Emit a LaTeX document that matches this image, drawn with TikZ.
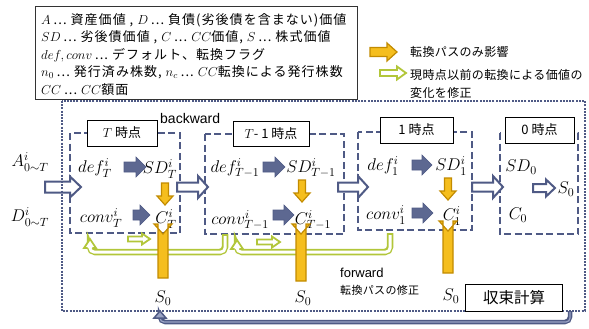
\RequirePackage{fix-cm}
\documentclass[tikz,border=0pt]{standalone}
\usepackage{fontspec}
\setmainfont{Noto Sans CJK JP}
\newfontfamily\lsans{Liberation Sans}
\newfontfamily\jpwide{Noto Sans CJK JP}[LetterSpace=8]
\newfontfamily\jpmid{Noto Sans CJK JP}[LetterSpace=3]
\usetikzlibrary{calc}
\definecolor{slate}{HTML}{4F5A85}
\definecolor{slatefill}{HTML}{5D6891}
\definecolor{slatelight}{HTML}{9AA3C4}
\definecolor{gold}{HTML}{F5BE1E}
\definecolor{golddark}{HTML}{C28B00}
\definecolor{ygreen}{HTML}{B2C63A}
\newcommand\dd{\hspace{3pt}...\hspace{4pt}}
\tikzset{
  pics/harr/.style args={#1/#2/#3/#4}{code={
    \path[pic actions] (0,-#2) -- ({#1-(#4)},-#2) -- ({#1-(#4)},-#3) -- (#1,0) -- ({#1-(#4)},#3) -- ({#1-(#4)},#2) -- (0,#2) -- cycle;}},
  pics/varr/.style args={#1/#2/#3/#4}{code={
    \path[pic actions] (-#2,0) -- (-#2,{#1-(#4)}) -- (-#3,{#1-(#4)}) -- (0,#1) -- (#3,{#1-(#4)}) -- (#2,{#1-(#4)}) -- (#2,0) -- cycle;}},
  hollow/.style={draw=slate, line width=2, fill=white, line join=miter},
  blk/.style={fill=slatefill, draw=slate, line width=0.6},
  gld/.style={fill=gold, draw=golddark, line width=1.2},
  grn/.style={fill=white, draw=ygreen, line width=1.8},
  mlab/.style={font=\fontsize{17}{19}\selectfont, inner sep=0pt},
  lgd/.style={anchor=west, inner sep=0pt, font=\jpwide\fontsize{13}{15}\selectfont},
  ttl/.style={draw=black, fill=white, line width=0.8, inner sep=0pt, font=\fontsize{13}{15}\selectfont},
  dbox/.style={draw=slate, line width=2.8, dash pattern=on 7pt off 3.5pt},
}
\begin{document}
\begin{tikzpicture}[x=1pt,y=-1pt]
\useasboundingbox (0,0) rectangle (589,329);
% legend box
\node[draw=black!80, line width=0.8, minimum width=322, minimum height=93, inner sep=0pt] (legend) at (196,52.5) {};
\node[lgd] (l1) at (41,20) {$A$\dd 資産価値 , $D$\dd 負債(劣後債を含まない)価値};
\node[lgd] (l2) at (41,37.5) {$SD$\dd 劣後債価値 , $C$\dd $CC$価値, $S$\dd 株式価値};
\node[lgd] (l3) at (41,55) {$def, conv$\dd デフォルト、転換フラグ};
\node[lgd] (l4) at (41,72.5) {$n_0$\dd 発行済み株数, $n_c$\dd $CC$転換による発行株数};
\node[lgd] (l5) at (41,90) {$CC$\dd$CC$額面};
% right legend
\pic[gld] at (370,52) {harr=27/4.5/9/10};
\node[lgd, font=\jpmid\fontsize{12}{14}\selectfont] (k1) at (410,52) {転換パスのみ影響};
\pic[grn] at (380,73) {harr=26/3/6.5/9};
\node[lgd, align=left, font=\jpmid\fontsize{12}{18}\selectfont] (k2) at (410,83.5) {現時点以前の転換による価値の\\変化を修正};
% dashed boxes
\draw[dbox] (70,133) rectangle (180,233);
\draw[dbox] (205,134) rectangle (344,234);
\draw[dbox] (358,132) rectangle (472,230);
\draw[dbox] (500,133) rectangle (578,234);
\node[ttl, minimum width=70, minimum height=26] (t1) at (122,133) {$T$\hspace{3pt}時点};
\node[ttl, minimum width=76, minimum height=25] (t2) at (271,133.5) {$T$- 1 時点};
\node[ttl, minimum width=73, minimum height=26] (t3) at (416.5,130) {1 時点};
\node[ttl, minimum width=69, minimum height=26] (t4) at (539.5,130) {0 時点};
\node[anchor=west, inner sep=0pt, font=\lsans\fontsize{14}{16}\selectfont] (bw) at (160,118) {backward};
% hollow arrows between stages
\pic[hollow] at (45,187) {harr=36/5.5/10.5/11};
\pic[hollow] at (177,187) {harr=31/4.5/11/10};
\pic[hollow] at (338,187) {harr=30/4.5/11/10};
\pic[hollow] at (472,187) {harr=31/4.5/11/10};
\pic[hollow] at (533,188) {harr=22/4/8.5/9};
% inputs
\node[mlab] (A) at (30,162) {$A^i_{0\sim T}$};
\node[mlab] (D) at (30,217) {$D^i_{0\sim T}$};
% stage T
\node[mlab] (defT) at (95,168) {$def^i_T$};
\node[mlab] (SDT) at (160,169) {$SD^i_T$};
\node[mlab] (convT) at (101,218) {$conv^i_T$};
\node[mlab] (CT) at (166,219) {$C^i_T$};
\pic[blk] at (124,167) {harr=22/5/10/10};
\pic[blk] at (133,215) {harr=17/5/10/10};
\pic[gld] at (165,183) {varr=22/3.5/8/9};
% stage T-1
\node[mlab] (defT1) at (235,168) {$def^i_{T-1}$};
\node[mlab] (SDT1) at (311,168) {$SD^i_{T-1}$};
\node[mlab] (convT1) at (240,220) {$conv^i_{T-1}$};
\node[mlab] (CT1) at (313,220) {$C^i_{T-1}$};
\pic[blk] at (263,167) {harr=22/5/10/10};
\pic[blk] at (273,215) {harr=21/5/10/10};
\pic[gld] at (302,180) {varr=22/3.5/8/9};
% stage 1
\node[mlab] (def1) at (383,166) {$def^i_1$};
\node[mlab] (SD1) at (451,166) {$SD^i_1$};
\node[mlab] (conv1) at (386,215) {$conv^i_1$};
\node[mlab] (C1) at (452,216) {$C^i_1$};
\pic[blk] at (412,165) {harr=20/5/10/10};
\pic[blk] at (412,213) {harr=21/5/10/10};
\pic[gld] at (448,178) {varr=22/3.5/8/9};
% stage 0
\node[mlab] (SD0) at (521,167) {$SD_0$};
\node[mlab] (S0) at (566,189) {$S_0$};
\node[mlab] (C0) at (518,215) {$C_0$};
% green small arrows
\pic[grn] at (128,239) {harr=22/2.5/5.5/8};
\pic[grn] at (257,242) {harr=23/2.5/5.5/8};
% green U arrows
\draw[ygreen, line width=6.5, rounded corners=5] (225,234) -- (225,252) -- (90,252) -- (90,248);
\draw[white, line width=3, rounded corners=4] (225,236) -- (225,252) -- (90,252) -- (90,247.6);
\fill[white] (84,248) -- (90,239) -- (96,248) -- cycle;
\draw[ygreen, line width=1.8, line join=miter] (87.6,248) -- (84,248) -- (90,239) -- (96,248) -- (92.4,248);
\draw[ygreen, line width=6.5, rounded corners=5] (390,233) -- (390,252) -- (237,252) -- (237,249);
\draw[white, line width=3, rounded corners=4] (390,235) -- (390,252) -- (237,252) -- (237,248.6);
\fill[white] (231,249) -- (237,240) -- (243,249) -- cycle;
\draw[ygreen, line width=1.8, line join=miter] (234.6,249) -- (231,249) -- (237,240) -- (243,249) -- (239.4,249);
% gold up arrows from S0
\node[mlab] (s0a) at (163,298) {$S_0$};
\node[mlab] (s0b) at (303,298) {$S_0$};
\node[mlab] (s0c) at (451,296) {$S_0$};
\pic[gld] at (163,278) {varr=-44/5/9/10};
\pic[gld] at (301,281) {varr=-47/5/9/10};
\pic[gld] at (448,273) {varr=-42/5/9/10};
% forward labels
\node[anchor=west, inner sep=0pt, font=\lsans\fontsize{13}{15}\selectfont] (fw) at (340,273) {forward};
\node[anchor=west, inner sep=0pt, font=\jpmid\fontsize{11}{12}\selectfont] (fwj) at (340,290) {転換パスの修正};
% outer dotted frame
\draw[slate, line width=2.5, dash pattern=on 2pt off 1.2pt] (62,101) rectangle (585,311);
% convergence box
\node[draw=black, fill=white, line width=0.8, minimum width=97, minimum height=27, inner sep=0pt, font=\fontsize{15.5}{17}\selectfont] (conv) at (514,297.5) {収束計算};
% return arrow
\draw[slate, line width=4.5, rounded corners=5] (570,311) -- (570,322) -- (160,322) -- (160,318);
\draw[slatelight, line width=1.2, rounded corners=4] (570,312) -- (570,322) -- (160,322) -- (160,317.5);
\filldraw[fill=slatelight, draw=slate, line width=1.5, line join=miter] (154,318) -- (160,311) -- (166,318) -- cycle;
\end{tikzpicture}
\end{document}
